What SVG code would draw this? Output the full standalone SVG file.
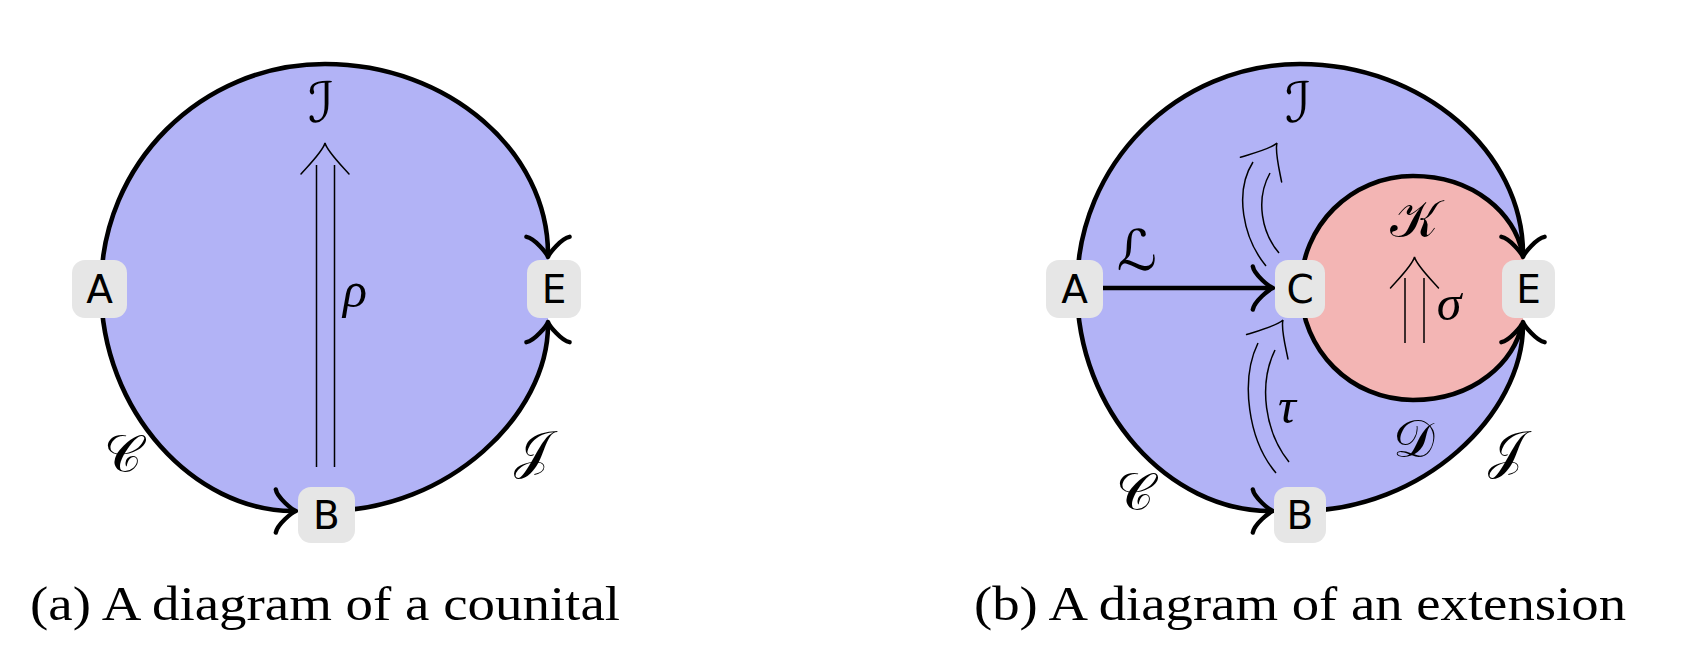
<svg xmlns="http://www.w3.org/2000/svg" xmlns:xlink="http://www.w3.org/1999/xlink" width="1684" height="658" viewBox="0 0 1684 658">
<style>
.blue{fill:#b2b3f6;stroke:none}
.pink{fill:#f3b5b4;stroke:none}
.edge{fill:none;stroke:#000;stroke-width:4.6;stroke-linecap:butt}
.thin{fill:none;stroke:#000;stroke-width:1.5}
.box{fill:#e6e6e6;stroke:none}
.nt{font-family:"DejaVu Sans","Liberation Sans",sans-serif;font-size:39px;fill:#000;text-anchor:middle}
.cal{font-family:"DejaVu Serif","DejaVu Sans","Noto Sans",serif;font-size:52px;fill:#000;text-anchor:middle}
.cal2{font-family:"DejaVu Serif","DejaVu Sans","Noto Sans",serif;font-style:italic;font-size:56px;fill:#000;text-anchor:middle}
.gr{font-family:"Liberation Serif",serif;font-style:italic;font-size:50px;fill:#000;text-anchor:middle}
.cap{font-family:"Liberation Serif",serif;font-size:48px;fill:#000}
</style>
<defs>
<marker id="to" markerUnits="userSpaceOnUse" viewBox="-22 -26 32 52" markerWidth="32" markerHeight="52" refX="1" refY="0" orient="auto" overflow="visible">
<path d="M -16.2,21.6 C -14.85,13.5 0,1.35 4.05,0 C 0,-1.35 -14.85,-13.5 -16.2,-21.6" fill="none" stroke="#000" stroke-width="4.4" stroke-linecap="round" stroke-linejoin="round"/>
</marker>
<path id="dh" d="M -31,24 C -22,16 -8,2 0,0 C -8,-2 -22,-16 -31,-24" fill="none" stroke="#000" stroke-width="1.5" stroke-linecap="round"/>
</defs>

<!-- (a) -->
<g id="fill-a">
<path class="blue" d="M 101,288 C 101,164 201,64 325,64 C 449,64 548,152 548,254 L 548,325 C 548,414 449,511 326,511 L 293,511 C 195,511 101,412 101,288 Z"/>
</g>
<g id="connectors-a">
<path class="edge" marker-end="url(#to)" d="M 101,288 C 101,164 201,64 325,64 C 449,64 548,152 548,254"/>
<path class="edge" marker-end="url(#to)" d="M 101,288 C 101,412 195,511 293,511"/>
<path class="edge" marker-end="url(#to)" d="M 326,511 C 449,511 548,414 548,325"/>
<path class="thin" d="M 316.5,467 L 316.5,165 M 334.5,467 L 334.5,165"/>
<use xlink:href="#dh" href="#dh" transform="translate(325,143) rotate(-90)"/>
</g>
<g id="labels-a">
<text class="cal2" x="321" y="122">ℐ</text>
<text class="gr" x="355" y="307">ρ</text>
<text class="cal" x="123" y="472">𝒞</text>
<text class="cal" x="532" y="468">𝒥</text>
</g>
<g id="node-a-A"><rect class="box" x="72" y="260" width="55" height="58" rx="13"/><text class="nt" x="99.5" y="303">A</text></g>
<g id="node-a-B"><rect class="box" x="298" y="487" width="57" height="56" rx="13"/><text class="nt" x="326.5" y="529">B</text></g>
<g id="node-a-E"><rect class="box" x="527" y="260" width="54" height="58" rx="13"/><text class="nt" x="554" y="303">E</text></g>

<!-- (b) -->
<g id="fill-b">
<path class="blue" d="M 1077,288 C 1077,164 1177,64 1300,64 C 1423,64 1523,152 1523,254 L 1523,325 C 1523,414 1423,511 1300,511 L 1270,511 C 1170,511 1077,412 1077,288 Z"/>
<path class="pink" d="M 1301,288 C 1301,226 1351,176 1413,176 C 1475,176 1515,215 1523,254 L 1523,322 C 1515,361 1475,400 1413,400 C 1351,400 1301,350 1301,288 Z"/>
</g>
<g id="connectors-b">
<path class="edge" marker-end="url(#to)" d="M 1077,288 C 1077,164 1177,64 1300,64 C 1423,64 1523,152 1523,254"/>
<path class="edge" marker-end="url(#to)" d="M 1077,288 C 1077,412 1170,511 1270,511"/>
<path class="edge" marker-end="url(#to)" d="M 1300,511 C 1423,511 1523,414 1523,325"/>
<path class="edge" d="M 1301,288 C 1301,226 1351,176 1413,176 C 1475,176 1515,215 1522,252"/>
<path class="edge" d="M 1301,288 C 1301,350 1351,400 1413,400 C 1475,400 1515,361 1522,324"/>
<path class="edge" marker-end="url(#to)" d="M 1103,288 L 1270,288"/>
<path class="thin" d="M 1266,266 C 1243,238 1234,192 1253,162 M 1279,253 C 1262,233 1255,200 1270,173"/>
<use xlink:href="#dh" href="#dh" transform="translate(1277,143) rotate(-59)"/>
<path class="thin" d="M 1276,473 C 1248,440 1240,380 1258,343 M 1289,462 C 1265,432 1258,385 1275,350"/>
<use xlink:href="#dh" href="#dh" transform="translate(1283,320) rotate(-59.5)"/>
<path class="thin" d="M 1405,343 L 1405,278 M 1424,343 L 1424,278"/>
<use xlink:href="#dh" href="#dh" transform="translate(1414.5,257) rotate(-90)"/>
</g>
<g id="labels-b">
<text class="cal2" x="1298" y="122">ℐ</text>
<text class="cal2" x="1137" y="270">ℒ</text>
<text class="cal" x="1414" y="237">𝒦</text>
<text class="gr" x="1449" y="320">σ</text>
<text class="gr" x="1287" y="423">τ</text>
<text class="cal" x="1414" y="457">𝒟</text>
<text class="cal" x="1506" y="468">𝒥</text>
<text class="cal" x="1135" y="510">𝒞</text>
</g>
<g id="node-b-A"><rect class="box" x="1046" y="260" width="57" height="58" rx="13"/><text class="nt" x="1074.5" y="303">A</text></g>
<g id="node-b-C"><rect class="box" x="1275" y="260" width="50" height="58" rx="13"/><text class="nt" x="1300" y="303">C</text></g>
<g id="node-b-E"><rect class="box" x="1502" y="260" width="53" height="58" rx="13"/><text class="nt" x="1528.5" y="303">E</text></g>
<g id="node-b-B"><rect class="box" x="1274" y="487" width="52" height="56" rx="13"/><text class="nt" x="1300" y="529">B</text></g>

<g id="captions">
<text class="cap" x="30" y="620" textLength="590" lengthAdjust="spacingAndGlyphs">(a) A diagram of a counital</text>
<text class="cap" x="974" y="620" textLength="652" lengthAdjust="spacingAndGlyphs">(b) A diagram of an extension</text>
</g>
</svg>
